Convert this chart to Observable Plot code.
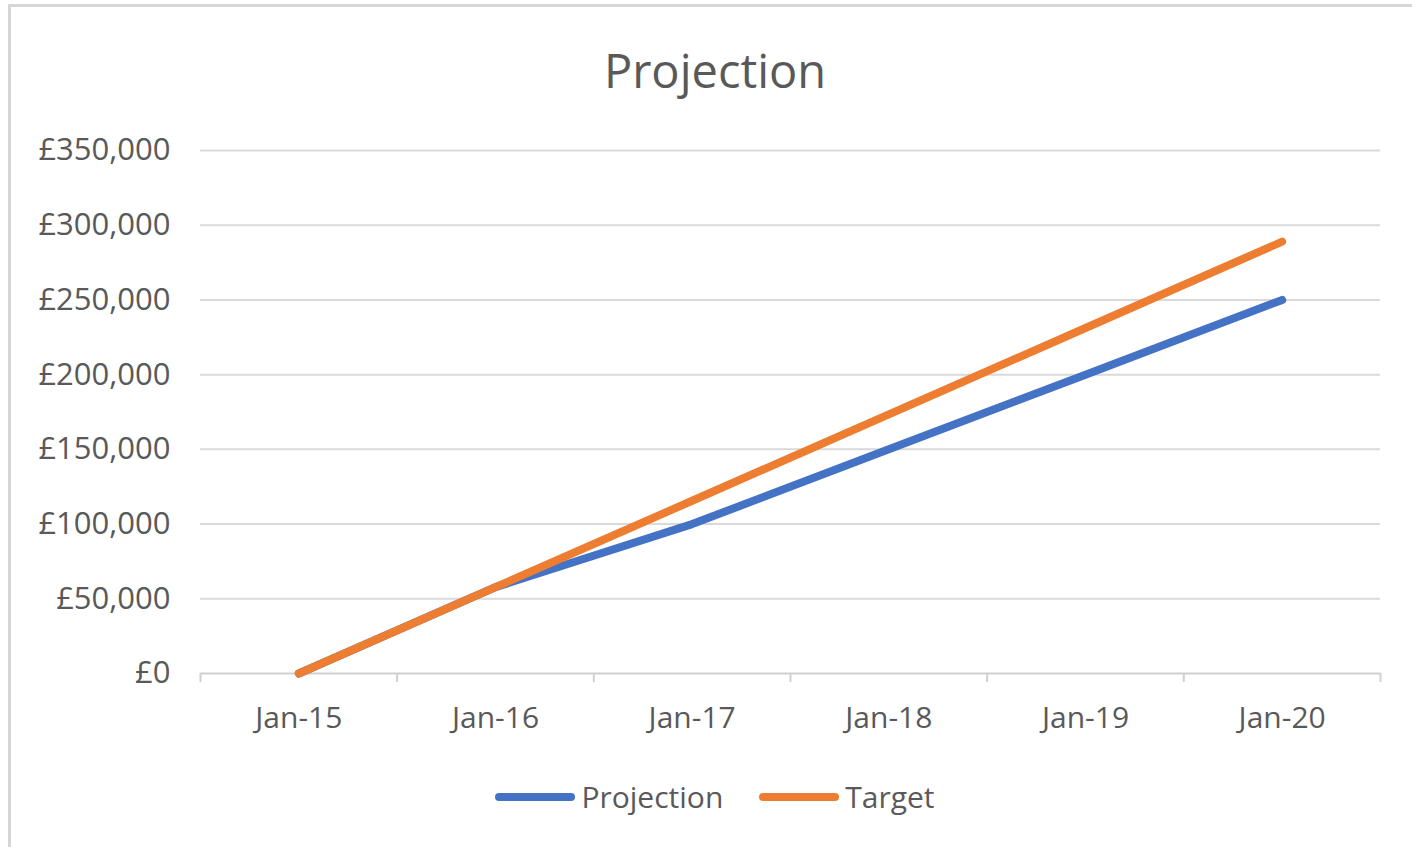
<!DOCTYPE html>
<html>
<head>
<meta charset="utf-8">
<script src="https://cdn.jsdelivr.net/npm/d3@7"></script>
<script src="https://cdn.jsdelivr.net/npm/@observablehq/plot@0.6"></script>
<style>
  html, body { margin: 0; padding: 0; background: #fff; }
  #wrap { position: relative; width: 1412px; height: 847px; overflow: hidden; font-family: "Open Sans", sans-serif; }
  #frame { position: absolute; left: 8px; top: 4px; width: 1420px; height: 860px; border-left: 3px solid #d6d6d6; border-top: 3px solid #d6d6d6; box-sizing: border-box; }
  #title { position: absolute; left: 0; width: 1430px; top: 47px; text-align: center; font-size: 47px; color: #595959; line-height: 1; }
  #chart { position: absolute; left: 0; top: 110px; }
  #legend { position: absolute; top: 776px; left: 0; width: 1430px; display: flex; justify-content: center; align-items: center; font-size: 30px; color: #595959; }
  .item { display: flex; align-items: center; margin: 0 18px; }
  .sw { width: 80px; height: 8px; border-radius: 4px; margin-right: 6px; }
</style>
</head>
<body>
<div id="wrap">
  <div id="frame"></div>
  <div id="title">Projection</div>
  <div id="chart"></div>
  <div id="legend"></div>
</div>
<script>
const categories = ["Jan-15", "Jan-16", "Jan-17", "Jan-18", "Jan-19", "Jan-20"];
const projection = [0, 57800, 100000, 150000, 200000, 250000];
const target = [0, 57800, 115600, 173400, 231200, 289000];
const yTicks = [0, 50000, 100000, 150000, 200000, 250000, 300000, 350000];
const seriesNames = ["Projection", "Target"];
const seriesColors = ["#4472C4", "#ED7D31"];

const rows = [];
categories.forEach((c, i) => {
  rows.push({i, cat: c, value: projection[i], series: "Projection"});
});
categories.forEach((c, i) => {
  rows.push({i, cat: c, value: target[i], series: "Target"});
});

const boundaries = d3.range(categories.length + 1).map(k => k - 0.5);
const fmt = v => "£" + d3.format(",")(v);

const plot = Plot.plot({
  width: 1412,
  height: 630,
  marginLeft: 200,
  marginRight: 32,
  marginTop: 40,
  marginBottom: 67,
  style: { fontFamily: "Open Sans, sans-serif", fontSize: "30px", color: "#595959", background: "transparent" },
  x: { type: "linear", domain: [-0.5, categories.length - 0.5], label: null },
  y: { domain: [0, 350000], label: null },
  color: { domain: seriesNames, range: seriesColors },
  marks: [
    Plot.ruleY(yTicks.filter(v => v > 0), { stroke: "#d9d9d9", strokeWidth: 2 }),
    Plot.ruleY([0], { stroke: "#d0d0d0", strokeWidth: 2 }),
    Plot.axisX({ ticks: boundaries, tickSize: 9, tickFormat: () => "", label: null, stroke: "#d0d0d0", strokeWidth: 2 }),
    Plot.axisX({ ticks: d3.range(categories.length), tickSize: 0, tickPadding: 33, tickFormat: i => categories[i], label: null, fill: "#595959", fontSize: 30 }),
    Plot.axisY({ ticks: yTicks, tickSize: 0, tickPadding: 30, tickFormat: fmt, label: null, fill: "#595959", fontSize: 31 }),
    Plot.line(rows, { x: "i", y: "value", z: "series", stroke: "series", strokeWidth: 8, strokeLinecap: "round", strokeLinejoin: "round" })
  ]
});
document.getElementById("chart").appendChild(plot);

const legend = document.getElementById("legend");
seriesNames.forEach((name, k) => {
  const item = document.createElement("div");
  item.className = "item";
  const sw = document.createElement("div");
  sw.className = "sw";
  sw.style.background = seriesColors[k];
  const label = document.createElement("span");
  label.textContent = name;
  item.appendChild(sw);
  item.appendChild(label);
  legend.appendChild(item);
});
</script>
</body>
</html>
